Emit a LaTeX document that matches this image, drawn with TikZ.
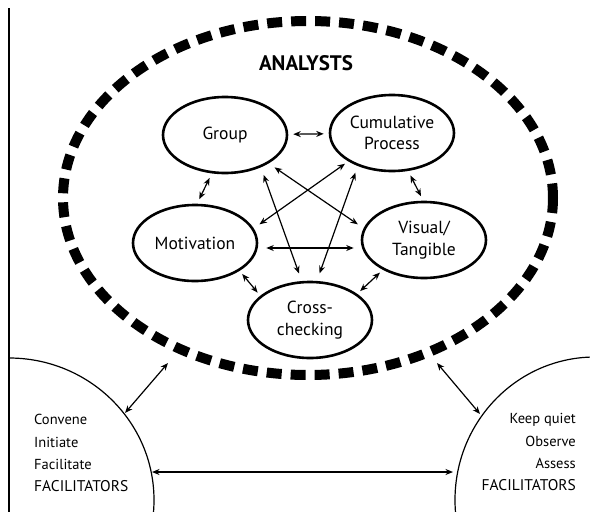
\documentclass[tikz,border=0pt]{standalone}
\usepackage{fontspec}
\setmainfont{PT Sans}
\usetikzlibrary{shapes.geometric,arrows.meta}
\begin{document}
\begin{tikzpicture}[x=1pt,y=-1pt,
  bub/.style={ellipse,draw,line width=2.6pt,minimum width=124pt,minimum height=76pt,inner sep=0pt,align=center,font=\fontsize{17.5}{21.5}\selectfont},
  tip/.tip={Stealth[length=7.5pt,width=6pt]},
  lnk/.style={tip-tip,line width=1.2pt,shorten <=5pt,shorten >=5pt},
  flnk/.style={tip-tip,line width=1.2pt},
  small/.style={font=\fontsize{14.5}{17}\selectfont},
  big/.style={font=\fontsize{15.5}{19}\selectfont},
  fac/.style={line width=1.2pt}]
\useasboundingbox (0,0) rectangle (590,512);
% left border
\draw[line width=1.2pt] (9,8) -- (9,512);
% analysts boundary
\draw[line width=10pt,dash pattern=on 15pt off 9pt] (308,198) ellipse [x radius=245, y radius=177];
\node[font=\bfseries\fontsize{21}{25}\selectfont] (an) at (306,63) {ANALYSTS};
% nodes
\node[bub] (g) at (225,135) {Group};
\node[bub] (c) at (392,133) {Cumulative\\Process};
\node[bub] (m) at (195,243) {Motivation};
\node[bub] (v) at (424,240) {Visual/\\Tangible};
\node[bub] (x) at (310,320) {Cross-\\checking};
% links
\draw[lnk] (g) -- (c);
\draw[lnk] (g.-109) -- (m.87);
\draw[lnk] (c.-67) -- (v.91);
\draw[lnk,shorten <=4pt,shorten >=4pt] (m.-32) -- (x.154);
\draw[lnk,shorten <=4pt,shorten >=4pt] (v.-144) -- (x.29);
\draw[lnk,shorten <=8pt,shorten >=7pt] ([yshift=-5pt]m.east) -- ([yshift=-8pt]v.west);
\draw[lnk,shorten <=7pt,shorten >=7pt] (g.-33) -- (v.169);
\draw[lnk,shorten <=8pt,shorten >=8pt] (g.-42) -- (x.102);
\draw[lnk,shorten <=4pt,shorten >=7pt] (c.-147) -- (m.14);
\draw[lnk,shorten <=7pt,shorten >=8pt] (c.-136) -- (x.80);
% facilitator regions
\begin{scope}
\clip (9,0) rectangle (590,512);
\draw[fac] (9,500) ellipse [x radius=145, y radius=142];
\draw[fac] (595,500) ellipse [x radius=140, y radius=143];
\end{scope}
\coordinate (la) at (125,413);
\coordinate (lb) at (168,363);
\coordinate (ra) at (437,363);
\coordinate (rb) at (480,414);
\coordinate (ha) at (152,472);
\coordinate (hb) at (453,472);
\draw[flnk] (la) -- (lb);
\draw[flnk] (ra) -- (rb);
\draw[flnk] (ha) -- (hb);
% texts
\node[small,anchor=base west,inner sep=0pt] (t1) at (34,424) {Convene};
\node[small,anchor=base west,inner sep=0pt] (t2) at (34,447) {Initiate};
\node[small,anchor=base west,inner sep=0pt] (t3) at (34,469) {Facilitate};
\node[big,anchor=base west,inner sep=0pt] (t4) at (34,491) {FACILITATORS};
\node[small,anchor=base east,inner sep=0pt] (r1) at (576,423) {Keep quiet};
\node[small,anchor=base east,inner sep=0pt] (r2) at (576,446) {Observe};
\node[small,anchor=base east,inner sep=0pt] (r3) at (576,468) {Assess};
\node[big,anchor=base east,inner sep=0pt] (r4) at (576,490) {FACILITATORS};
\end{tikzpicture}
\end{document}
